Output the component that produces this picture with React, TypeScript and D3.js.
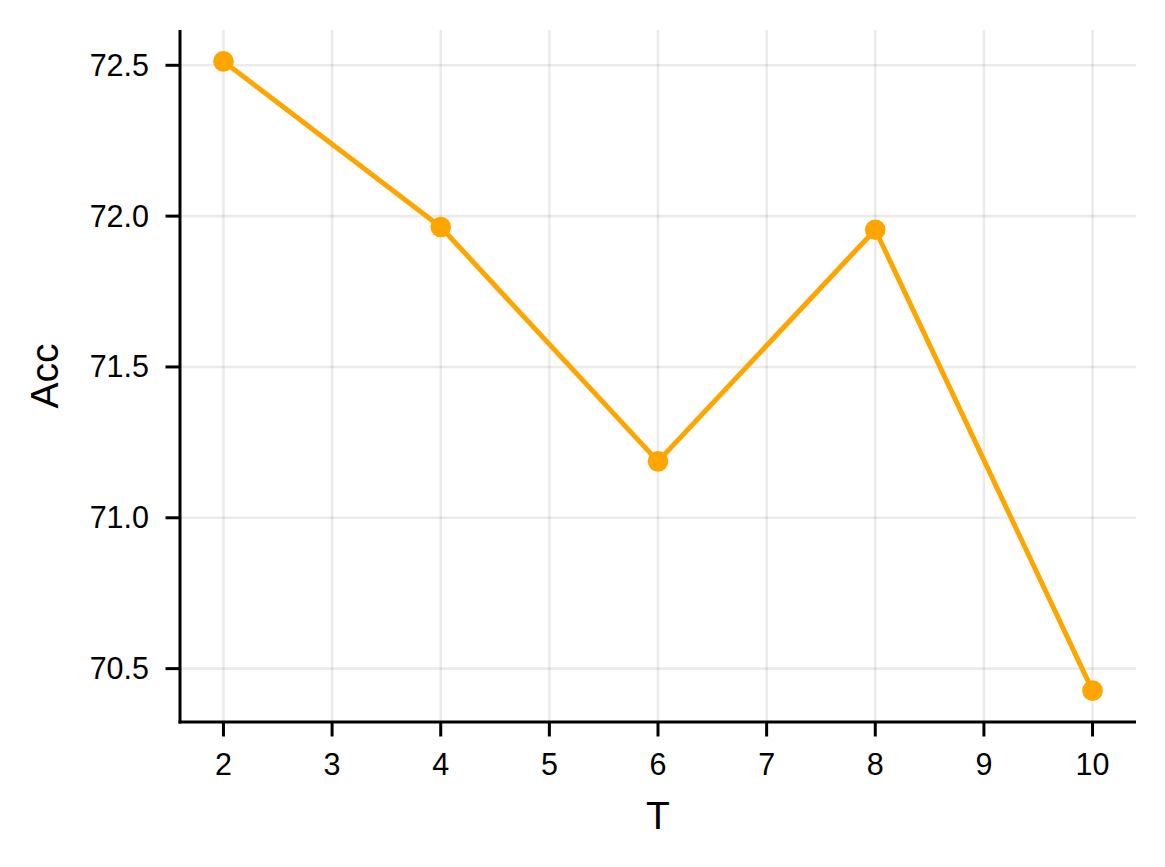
import React from 'react';
import * as d3 from 'd3';

const tValues = [2, 4, 6, 8, 10];
const accValues = [72.513, 71.964, 71.187, 71.955, 70.427];
const xTicks = [2, 3, 4, 5, 6, 7, 8, 9, 10];
const yTicks = [70.5, 71.0, 71.5, 72.0, 72.5];

const width = 1165;
const height = 867;
const margin = { left: 180, right: 29, top: 30, bottom: 145 };
const font = "'Liberation Sans', Arial, Helvetica, sans-serif";

const App = () => {
  const x = d3.scaleLinear().domain([1.6, 10.4]).range([margin.left, width - margin.right]);
  const y = d3.scaleLinear().domain([70.323, 72.617]).range([height - margin.bottom, margin.top]);

  const line = d3.line<number>()
    .x((_, i) => x(tValues[i]))
    .y(d => y(d));

  const x0 = margin.left;
  const x1 = width - margin.right;
  const y0 = height - margin.bottom;
  const y1 = margin.top;

  return (
    <svg width={width} height={height} style={{ position: 'absolute', left: 0, top: 0, background: '#fff' }}>
      {/* grid */}
      {xTicks.map(t => (
        <line key={'gx' + t} x1={x(t)} x2={x(t)} y1={y0} y2={y1} stroke="#000" strokeOpacity={0.08} strokeWidth={2.6} />
      ))}
      {yTicks.map(t => (
        <line key={'gy' + t} x1={x0} x2={x1} y1={y(t)} y2={y(t)} stroke="#000" strokeOpacity={0.08} strokeWidth={2.6} />
      ))}

      <path d={line(accValues) || ''} fill="none" stroke="#ffa500" strokeWidth={5} strokeLinejoin="round" />
      {accValues.map((v, i) => (
        <circle key={i} cx={x(tValues[i])} cy={y(v)} r={10.3} fill="#ffa500" />
      ))}

      {/* spines */}
      <line x1={x0} x2={x0} y1={y1} y2={y0 + 1.5} stroke="#000" strokeWidth={3} />
      <line x1={x0 - 1.5} x2={x1} y1={y0} y2={y0} stroke="#000" strokeWidth={3} />

      {/* x ticks */}
      {xTicks.map(t => (
        <g key={'xt' + t}>
          <line x1={x(t)} x2={x(t)} y1={y0} y2={y0 + 14.5} stroke="#000" strokeWidth={3} />
          <text x={x(t)} y={y0 + 53} textAnchor="middle" fontSize={30.5} fontFamily={font}>{t}</text>
        </g>
      ))}
      {/* y ticks */}
      {yTicks.map(t => (
        <g key={'yt' + t}>
          <line x1={x0 - 14.5} x2={x0} y1={y(t)} y2={y(t)} stroke="#000" strokeWidth={3} />
          <text x={x0 - 31} y={y(t) + 10.5} textAnchor="end" fontSize={30.5} fontFamily={font}>{t.toFixed(1)}</text>
        </g>
      ))}

      <text x={(x0 + x1) / 2} y={829} textAnchor="middle" fontSize={39} fontFamily={font}>T</text>
      <text transform={`translate(58, ${(y0 + y1) / 2}) rotate(-90)`} textAnchor="middle" fontSize={39} fontFamily={font}>Acc</text>
    </svg>
  );
};

export default App;
